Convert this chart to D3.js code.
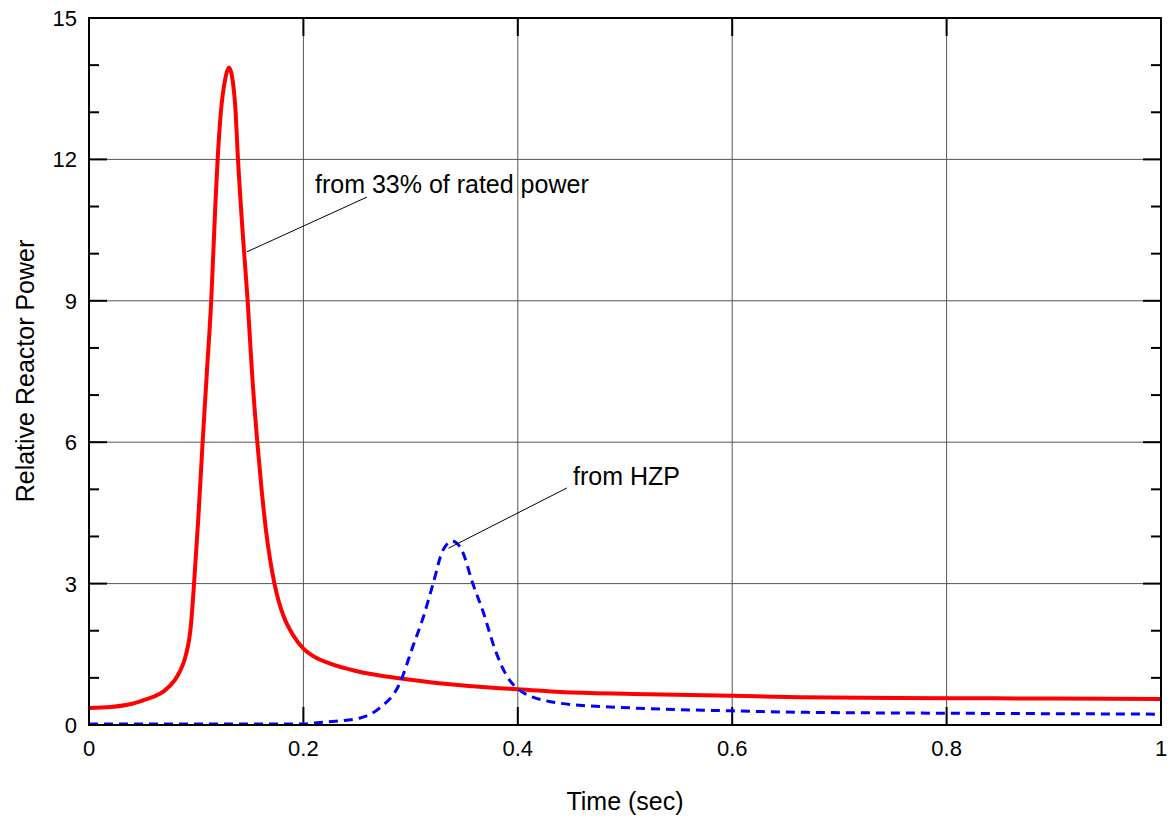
<!DOCTYPE html>
<html>
<head>
<meta charset="utf-8">
<script src="https://cdn.jsdelivr.net/npm/d3@7"></script>
<style>
  body { margin: 0; background: #fff; }
  text { font-family: "Liberation Sans", Arial, sans-serif; fill: #000; }
</style>
</head>
<body>
<div id="chart"></div>
<script>
// data
var redTime = [0, 0.02, 0.04, 0.05, 0.06, 0.07, 0.08, 0.085, 0.09, 0.095, 0.098, 0.102, 0.106, 0.11, 0.114, 0.118, 0.12, 0.123, 0.127, 0.1306, 0.1335, 0.1365, 0.139, 0.1435, 0.148, 0.152, 0.157, 0.161, 0.165, 0.169, 0.173, 0.177, 0.182, 0.19, 0.2, 0.21, 0.225, 0.25, 0.271, 0.3, 0.334, 0.383, 0.4, 0.44, 0.508, 0.6, 0.663, 0.8, 0.9, 1.0];
var redPower = [0.36, 0.38, 0.45, 0.52, 0.6, 0.72, 0.95, 1.15, 1.45, 2.1, 3.0, 4.4, 6.0, 7.5, 9.0, 11.1, 12.0, 13.0, 13.7, 13.95, 13.75, 13.1, 12.0, 10.4, 9.0, 7.5, 6.0, 5.0, 4.15, 3.5, 3.0, 2.62, 2.28, 1.92, 1.62, 1.45, 1.3, 1.14, 1.05, 0.96, 0.87, 0.78, 0.76, 0.70, 0.66, 0.62, 0.59, 0.57, 0.56, 0.55];

var blueTime = [0, 0.1, 0.2, 0.209, 0.23, 0.253, 0.271, 0.29, 0.302, 0.312, 0.321, 0.33, 0.339, 0.348, 0.358, 0.368, 0.377, 0.385, 0.393, 0.4, 0.407, 0.414, 0.425, 0.44, 0.508, 0.6, 0.663, 0.8, 0.9, 1.0];
var bluePower = [0.02, 0.02, 0.02, 0.04, 0.08, 0.15, 0.36, 0.89, 1.66, 2.3, 3.0, 3.7, 3.9, 3.7, 3.0, 2.38, 1.72, 1.25, 0.93, 0.77, 0.66, 0.59, 0.52, 0.46, 0.36, 0.30, 0.27, 0.25, 0.24, 0.23];

var xTicks = [0, 0.2, 0.4, 0.6, 0.8, 1];
var xTickLabels = ["0", "0.2", "0.4", "0.6", "0.8", "1"];
var yTicks = [0, 3, 6, 9, 12, 15];
var yMinorTicks = [1, 2, 4, 5, 7, 8, 10, 11, 13, 14];

// annotations: leader line ends and text anchor, in data units
var noteLabels = ["from 33% of rated power", "from HZP"];
var noteLines = [
  [[0.1474, 10.04], [0.2593, 11.2]],
  [[0.3353, 3.75], [0.4459, 5.03]]
];
var noteText = [[0.2108, 11.29], [0.4515, 5.09]];

var svgWidth = 1171;
var svgHeight = 821;
var margin = { top: 18, right: 10, bottom: 96, left: 89 };
var width = svgWidth - margin.left - margin.right;
var height = svgHeight - margin.top - margin.bottom;

var svg = d3.select("#chart")
  .append("svg")
  .attr("width", svgWidth)
  .attr("height", svgHeight);

var chartGroup = svg.append("g")
  .attr("transform", `translate(${margin.left}, ${margin.top})`);

var x = d3.scaleLinear().domain([0, 1]).range([0, width]);
var y = d3.scaleLinear().domain([0, 15]).range([height, 0]);

// grid
chartGroup.append("g")
  .selectAll("line")
  .data(xTicks.slice(1, -1))
  .enter()
  .append("line")
  .attr("x1", d => x(d)).attr("x2", d => x(d))
  .attr("y1", 0).attr("y2", height)
  .attr("stroke", "#555").attr("stroke-width", 1);

chartGroup.append("g")
  .selectAll("line")
  .data(yTicks.slice(1, -1))
  .enter()
  .append("line")
  .attr("x1", 0).attr("x2", width)
  .attr("y1", d => y(d)).attr("y2", d => y(d))
  .attr("stroke", "#555").attr("stroke-width", 1);

// inward ticks on all four sides
var major = 18, minor = 10;
var tickG = chartGroup.append("g").attr("stroke", "#000").attr("stroke-width", 2);

xTicks.forEach(function(d) {
  tickG.append("line").attr("x1", x(d)).attr("x2", x(d)).attr("y1", height).attr("y2", height - major);
  tickG.append("line").attr("x1", x(d)).attr("x2", x(d)).attr("y1", 0).attr("y2", major);
});
yTicks.forEach(function(d) {
  tickG.append("line").attr("x1", 0).attr("x2", major).attr("y1", y(d)).attr("y2", y(d));
  tickG.append("line").attr("x1", width).attr("x2", width - major).attr("y1", y(d)).attr("y2", y(d));
});
yMinorTicks.forEach(function(d) {
  tickG.append("line").attr("x1", 0).attr("x2", minor).attr("y1", y(d)).attr("y2", y(d));
  tickG.append("line").attr("x1", width).attr("x2", width - minor).attr("y1", y(d)).attr("y2", y(d));
});

// tick labels
chartGroup.append("g")
  .selectAll("text")
  .data(xTicks)
  .enter()
  .append("text")
  .attr("x", d => x(d))
  .attr("y", height + 31)
  .attr("text-anchor", "middle")
  .attr("font-size", "22px")
  .text((d, i) => xTickLabels[i]);

chartGroup.append("g")
  .selectAll("text")
  .data(yTicks)
  .enter()
  .append("text")
  .attr("x", -12)
  .attr("y", d => y(d))
  .attr("dy", "0.36em")
  .attr("text-anchor", "end")
  .attr("font-size", "22px")
  .text(d => d);

// lines
var line = d3.line()
  .x(d => x(d[0]))
  .y(d => y(d[1]))
  .curve(d3.curveMonotoneX);

chartGroup.append("path")
  .datum(redTime.map((t, i) => [t, redPower[i]]))
  .attr("d", line)
  .attr("fill", "none")
  .attr("stroke", "#ff0000")
  .attr("stroke-width", 4)
  .attr("stroke-linejoin", "round");

chartGroup.append("path")
  .datum(blueTime.map((t, i) => [t, bluePower[i]]))
  .attr("d", line)
  .attr("fill", "none")
  .attr("stroke", "#0000ff")
  .attr("stroke-width", 3)
  .attr("stroke-dasharray", "9,6");

// frame
chartGroup.append("rect")
  .attr("x", 0).attr("y", 0)
  .attr("width", width).attr("height", height)
  .attr("fill", "none")
  .attr("stroke", "#000")
  .attr("stroke-width", 2);

// annotations
noteLines.forEach(function(seg, i) {
  chartGroup.append("line")
    .attr("x1", x(seg[0][0])).attr("y1", y(seg[0][1]))
    .attr("x2", x(seg[1][0])).attr("y2", y(seg[1][1]))
    .attr("stroke", "#000").attr("stroke-width", 1);
  chartGroup.append("text")
    .attr("x", x(noteText[i][0]))
    .attr("y", y(noteText[i][1]))
    .attr("font-size", "25px")
    .text(noteLabels[i]);
});

// axis titles
svg.append("text")
  .attr("x", margin.left + width / 2)
  .attr("y", 810)
  .attr("text-anchor", "middle")
  .attr("font-size", "25px")
  .text("Time (sec)");

svg.append("text")
  .attr("transform", "translate(34, 371) rotate(-90)")
  .attr("text-anchor", "middle")
  .attr("font-size", "25px")
  .text("Relative Reactor Power");
</script>
</body>
</html>
